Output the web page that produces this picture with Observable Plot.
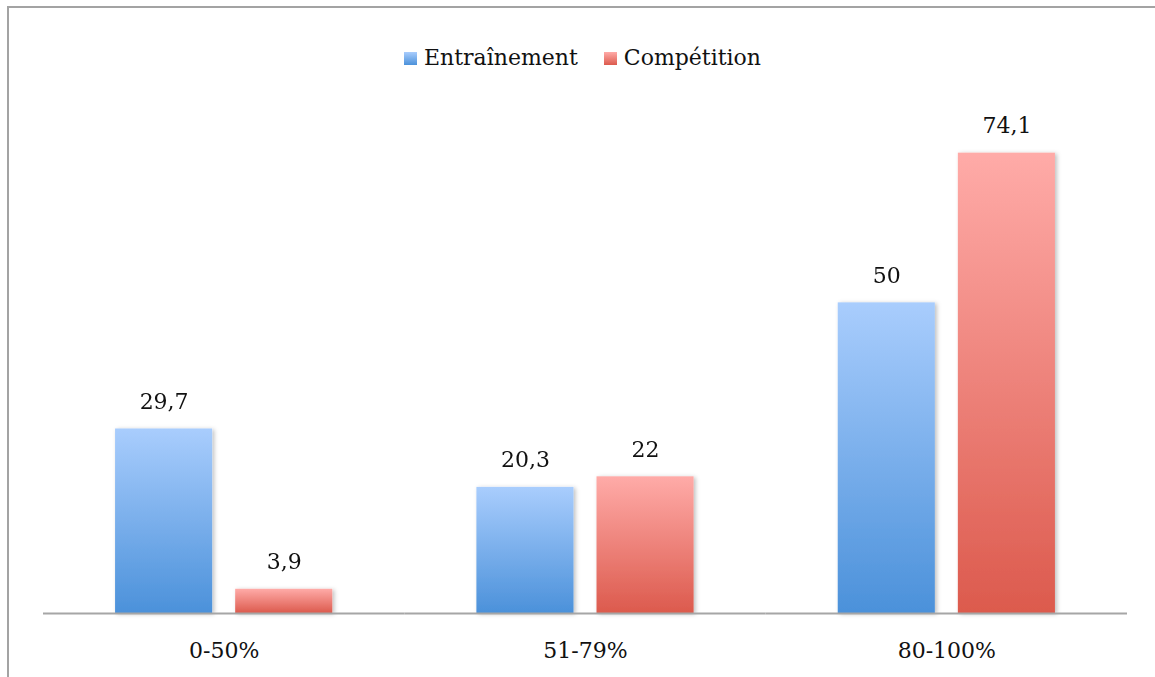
<!DOCTYPE html>
<html>
<head>
<meta charset="utf-8">
<script src="https://cdn.jsdelivr.net/npm/d3@7"></script>
<script src="https://cdn.jsdelivr.net/npm/@observablehq/plot@0.6"></script>
<style>
  html, body { margin: 0; padding: 0; background: #fff; overflow: hidden; }
  #wrap { position: relative; width: 1155px; height: 677px; overflow: hidden; font-family: "DejaVu Serif", serif; }
  #frame { position: absolute; left: 7px; top: 6px; width: 1300px; height: 800px; border: 2px solid #a3a3a3; box-sizing: border-box; }
  #legend { position: absolute; top: 45px; left: 0; width: 100%; display: flex; justify-content: center; font-size: 22px; color: #111; padding-left: 10px; box-sizing: border-box; }
  .item { display: flex; align-items: center; margin: 0 13px; }
  .sw { width: 13px; height: 13px; margin-right: 7px; margin-top: 2px; }
  #chart { position: absolute; left: 0; top: 0; }
</style>
</head>
<body>
<div id="wrap">
  <div id="frame"></div>
  <div id="chart"></div>
  <div id="legend"></div>
</div>
<script>
const categories = ["0-50%", "51-79%", "80-100%"];
const seriesNames = ["Entraînement", "Compétition"];
const entrainement = [29.7, 20.3, 50];
const competition = [3.9, 22, 74.1];

const data = [];
categories.forEach((c, i) => {
  data.push({cat: c, series: seriesNames[0], value: entrainement[i]});
  data.push({cat: c, series: seriesNames[1], value: competition[i]});
});
const fmt = v => String(v).replace(".", ",");

const font = "DejaVu Serif, serif";
const plot = Plot.plot({
  width: 1155,
  height: 677,
  marginLeft: 43,
  marginRight: 28,
  marginTop: 116,
  marginBottom: 64,
  style: {fontFamily: font, fontSize: "22px", color: "#111", background: "transparent"},
  fx: {domain: categories, padding: 0, label: null, round: false},
  x: {domain: seriesNames, paddingInner: 0.1917, paddingOuter: 0.6, round: false, axis: null},
  y: {domain: [0, 80], axis: null},
  marks: [
    Plot.barY(data.filter(d => d.series === seriesNames[0]), {fx: "cat", x: "series", y: "value", fill: "url(#gradBlue)"}),
    Plot.barY(data.filter(d => d.series === seriesNames[1]), {fx: "cat", x: "series", y: "value", fill: "url(#gradRed)"}),
    Plot.ruleY([0], {stroke: "#a6a6a6", strokeWidth: 2}),
    Plot.text(data, {fx: "cat", x: "series", y: "value", text: d => fmt(d.value), dy: -27, fill: "#111", fontSize: 22}),
    Plot.axisFx({anchor: "bottom", tickSize: 0, tickPadding: 29, fontSize: 22, label: null})
  ]
});

const ns = "http://www.w3.org/2000/svg";
const defs = document.createElementNS(ns, "defs");
defs.innerHTML = `
  <linearGradient id="gradBlue" x1="0" y1="0" x2="0" y2="1">
    <stop offset="0" stop-color="#a9cdfd"/>
    <stop offset="1" stop-color="#4b91da"/>
  </linearGradient>
  <linearGradient id="gradRed" x1="0" y1="0" x2="0" y2="1">
    <stop offset="0" stop-color="#ffaba8"/>
    <stop offset="1" stop-color="#dc5a4d"/>
  </linearGradient>
  <filter id="shadow" x="-20%" y="-20%" width="140%" height="140%">
    <feDropShadow dx="2" dy="1" stdDeviation="2" flood-color="#000" flood-opacity="0.25"/>
  </filter>`;
plot.insertBefore(defs, plot.firstChild);
plot.querySelectorAll('g[aria-label="bar"]').forEach(g => g.setAttribute("filter", "url(#shadow)"));
document.getElementById("chart").appendChild(plot);

const legend = document.getElementById("legend");
const legendColors = ["linear-gradient(#a9cdfd, #4b91da)", "linear-gradient(#ffaba8, #dc5a4d)"];
seriesNames.forEach((s, i) => {
  const it = document.createElement("div");
  it.className = "item";
  it.innerHTML = `<span class="sw" style="background:${legendColors[i]}"></span><span>${s}</span>`;
  legend.appendChild(it);
});
</script>
</body>
</html>
